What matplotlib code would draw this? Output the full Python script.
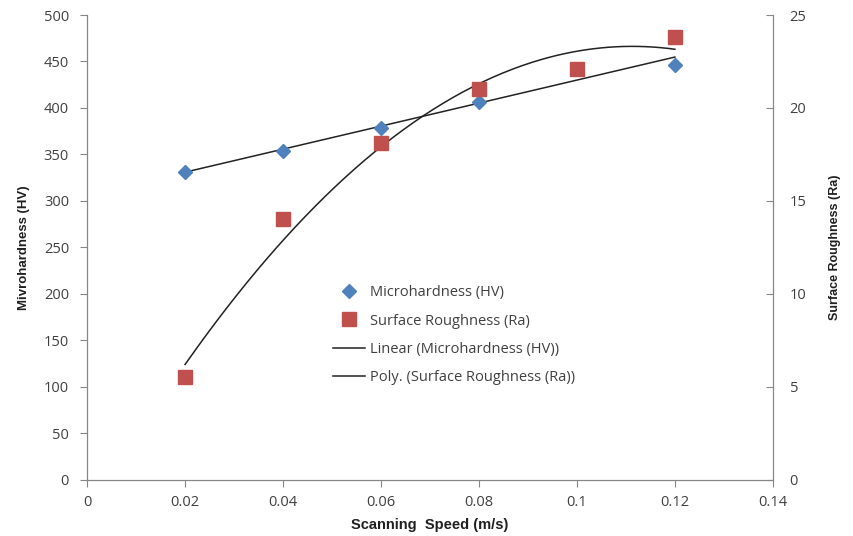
import numpy as np
import matplotlib
matplotlib.use("Agg")
import matplotlib.pyplot as plt

speed = [0.02, 0.04, 0.06, 0.08, 0.10, 0.12]
microhardness = [331, 354, 378, 406, 442, 446]
roughness = [5.5, 14.0, 18.1, 21.0, 22.1, 23.8]

plt.rcParams['font.family'] = ['Open Sans', 'DejaVu Sans']
grey = '#404040'
axis_col = '#868686'

fig = plt.figure(figsize=(8.54, 5.36), dpi=100)
ax = fig.add_axes([0.102, 0.105, 0.803, 0.867])
ax2 = ax.twinx()

# trend lines, like excel does them
lin = np.polyfit(speed, microhardness, 1)
poly = np.polyfit(speed, roughness, 2)
xs = np.linspace(speed[0], speed[-1], 200)

h1, = ax.plot(speed, microhardness, 'D', color='#4F81BD', markersize=7,
              label='Microhardness (HV)', zorder=3)
l1, = ax.plot(xs, np.polyval(lin, xs), color='#222222', lw=1.1,
              label='Linear (Microhardness (HV))', zorder=2)
h2, = ax2.plot(speed, roughness, 's', color='#C0504D', markersize=10,
               label='Surface Roughness (Ra)', zorder=3)
l2, = ax2.plot(xs, np.polyval(poly, xs), color='#222222', lw=1.1,
               label='Poly. (Surface Roughness (Ra))', zorder=2)

ax.set_xlim(0, 0.14)
ax.set_ylim(0, 500)
ax2.set_ylim(0, 25)
ax.set_xticks(np.arange(0, 0.141, 0.02))
ax.set_xticklabels(['0', '0.02', '0.04', '0.06', '0.08', '0.1', '0.12', '0.14'])
ax.set_yticks(range(0, 501, 50))
ax2.set_yticks(range(0, 26, 5))

for a in (ax, ax2):
    a.spines['top'].set_visible(False)
    for s in ('left', 'right', 'bottom'):
        a.spines[s].set_color(axis_col)
    a.tick_params(colors=axis_col, labelcolor=grey, labelsize=10.5, length=5)
ax2.tick_params(axis='y', direction='in', pad=12)
ax.tick_params(axis='y', pad=8)
ax.tick_params(axis='x', pad=6)

lab_font = dict(family=['Liberation Sans', 'DejaVu Sans'],
                fontweight='bold', color='#202020')
ax.set_xlabel('Scanning  Speed (m/s)', labelpad=6, fontsize=10.5, **lab_font)
ax.set_ylabel('Mivrohardness (HV)', labelpad=10, fontsize=9.5, **lab_font)
ax2.set_ylabel('Surface Roughness (Ra)', labelpad=16, fontsize=9, **lab_font)

leg = fig.legend([h1, h2, l1, l2],
                 [h.get_label() for h in (h1, h2, l1, l2)],
                 loc='upper left', bbox_to_anchor=(0.375, 0.492),
                 frameon=False, fontsize=10.5, labelspacing=0.9,
                 handlelength=2.2, handletextpad=0.3)
for t in leg.get_texts():
    t.set_color(grey)

fig.savefig('out.png', dpi=100)
